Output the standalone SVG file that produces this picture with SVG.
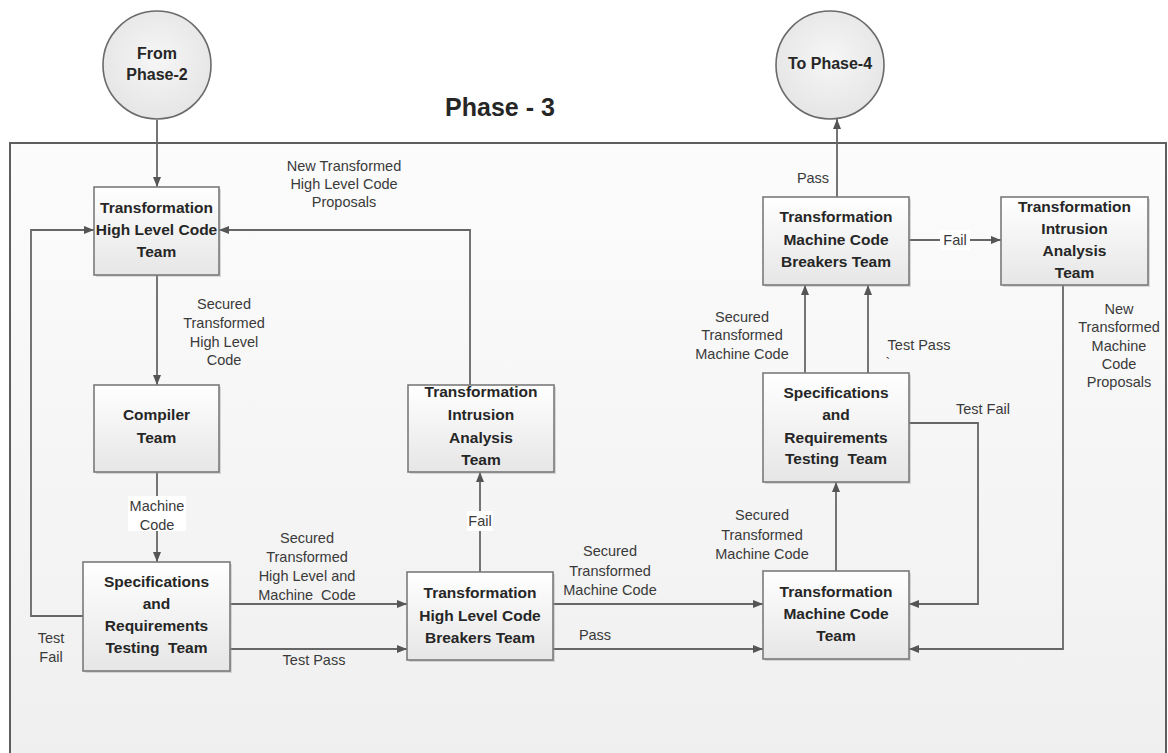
<svg xmlns="http://www.w3.org/2000/svg" width="1168" height="753" viewBox="0 0 1168 753">
<style>
.nt{font-family:"Liberation Sans",Arial,sans-serif;font-weight:bold;font-size:15.5px;fill:#262626;text-anchor:middle;white-space:pre}
.ct{font-family:"Liberation Sans",Arial,sans-serif;font-weight:bold;font-size:16px;fill:#262626;text-anchor:middle}
.el{font-family:"Liberation Sans",Arial,sans-serif;font-size:14.5px;fill:#3a3a3a;text-anchor:middle;white-space:pre}
.box{fill:url(#bg);stroke:#7a7a7a;stroke-width:1.6}
.sh{fill:#9a9a9a;opacity:0.35}
.cn{fill:none;stroke:#666;stroke-width:1.8}
.lb{fill:#fff}
</style>
<defs>
<linearGradient id="bg" x1="0" y1="0" x2="0" y2="1"><stop offset="0" stop-color="#ffffff"/><stop offset="1" stop-color="#e6e6e6"/></linearGradient>
<linearGradient id="fr" x1="0" y1="0" x2="0" y2="1"><stop offset="0" stop-color="#fcfcfc"/><stop offset="1" stop-color="#efefef"/></linearGradient>
<radialGradient id="cg" cx="0.5" cy="0.45" r="0.6"><stop offset="0" stop-color="#f6f6f6"/><stop offset="1" stop-color="#e4e4e4"/></radialGradient>
<marker id="ah" viewBox="0 0 10 8" refX="10" refY="4" markerWidth="10" markerHeight="8" markerUnits="userSpaceOnUse" orient="auto"><path d="M0,0 L10,4 L0,8 Z" fill="#555"/></marker>
</defs>

<g id="frame">
<rect x="10" y="143" width="1156" height="630" fill="url(#fr)" stroke="#5e5e5e" stroke-width="2"/>
<text x="500" y="116" font-family="'Liberation Sans',Arial,sans-serif" font-weight="bold" font-size="25" fill="#262626" text-anchor="middle">Phase - 3</text>
</g>

<g id="connectors">
<line class="cn" x1="157" y1="120" x2="157" y2="187" marker-end="url(#ah)"/>
<line class="cn" x1="157" y1="275" x2="157" y2="385" marker-end="url(#ah)"/>
<line class="cn" x1="157" y1="472" x2="157" y2="562" marker-end="url(#ah)"/>
<polyline class="cn" points="83,616 31,616 31,230 94,230" marker-end="url(#ah)"/>
<line class="cn" x1="230" y1="604" x2="407" y2="604" marker-end="url(#ah)"/>
<line class="cn" x1="230" y1="649" x2="407" y2="649" marker-end="url(#ah)"/>
<line class="cn" x1="480" y1="572" x2="480" y2="472" marker-end="url(#ah)"/>
<polyline class="cn" points="470,385 470,230 219,230" marker-end="url(#ah)"/>
<line class="cn" x1="553" y1="604" x2="763" y2="604" marker-end="url(#ah)"/>
<line class="cn" x1="553" y1="649" x2="763" y2="649" marker-end="url(#ah)"/>
<line class="cn" x1="836" y1="571" x2="836" y2="482" marker-end="url(#ah)"/>
<line class="cn" x1="805" y1="373" x2="805" y2="285" marker-end="url(#ah)"/>
<line class="cn" x1="868" y1="373" x2="868" y2="285" marker-end="url(#ah)"/>
<polyline class="cn" points="909,423 978,423 978,604 909,604" marker-end="url(#ah)"/>
<line class="cn" x1="909" y1="240" x2="1001" y2="240" marker-end="url(#ah)"/>
<polyline class="cn" points="1063,285 1063,649 909,649" marker-end="url(#ah)"/>
<line class="cn" x1="837" y1="197" x2="837" y2="119" marker-end="url(#ah)"/>

<text class="el" x="224" y="309">Secured</text>
<text class="el" x="224" y="328">Transformed</text>
<text class="el" x="224" y="347">High Level</text>
<text class="el" x="224" y="365">Code</text>
<rect class="lb" x="128" y="496" width="58" height="35"/>
<text class="el" x="157" y="511">Machine</text>
<text class="el" x="157" y="530">Code</text>
<text class="el" x="51" y="643">Test</text>
<text class="el" x="51" y="662">Fail</text>
<text class="el" x="307" y="543">Secured</text>
<text class="el" x="307" y="562">Transformed</text>
<text class="el" x="307" y="581">High Level and</text>
<text class="el" x="307" y="600">Machine  Code</text>
<text class="el" x="314" y="665">Test Pass</text>
<rect class="lb" x="467" y="511" width="26" height="20"/>
<text class="el" x="480" y="526">Fail</text>
<text class="el" x="344" y="171">New Transformed</text>
<text class="el" x="344" y="189">High Level Code</text>
<text class="el" x="344" y="207">Proposals</text>
<text class="el" x="610" y="556">Secured</text>
<text class="el" x="610" y="576">Transformed</text>
<text class="el" x="610" y="595">Machine Code</text>
<text class="el" x="595" y="640">Pass</text>
<text class="el" x="762" y="520">Secured</text>
<text class="el" x="762" y="540">Transformed</text>
<text class="el" x="762" y="559">Machine Code</text>
<text class="el" x="742" y="322">Secured</text>
<text class="el" x="742" y="340">Transformed</text>
<text class="el" x="742" y="359">Machine Code</text>
<text class="el" x="919" y="350">Test Pass</text>
<text class="el" x="888" y="368">`</text>
<text class="el" x="983" y="414">Test Fail</text>
<rect class="lb" x="940" y="230" width="30" height="20" fill="#f8f8f8"/>
<text class="el" x="955" y="245">Fail</text>
<text class="el" x="1119" y="314">New</text>
<text class="el" x="1119" y="332">Transformed</text>
<text class="el" x="1119" y="351">Machine</text>
<text class="el" x="1119" y="369">Code</text>
<text class="el" x="1119" y="387">Proposals</text>
<text class="el" x="813" y="183">Pass</text>
</g>

<g id="from-phase-2">
<circle cx="157" cy="65" r="54" fill="url(#cg)" stroke="#6a6a6a" stroke-width="1.6"/>
<text class="ct" x="157" y="59">From</text>
<text class="ct" x="157" y="80">Phase-2</text>
</g>
<g id="to-phase-4">
<circle cx="830" cy="65" r="54" fill="url(#cg)" stroke="#6a6a6a" stroke-width="1.6"/>
<text class="ct" x="830" y="69">To Phase-4</text>
</g>

<g id="t-hl-code-team">
<rect class="sh" x="96" y="189" width="125" height="88"/>
<rect class="box" x="94" y="187" width="125" height="88"/>
<text class="nt" x="156.5" y="213">Transformation</text>
<text class="nt" x="156.5" y="235">High Level Code</text>
<text class="nt" x="156.5" y="257">Team</text>
</g>
<g id="compiler-team">
<rect class="sh" x="96" y="387" width="125" height="87"/>
<rect class="box" x="94" y="385" width="125" height="87"/>
<text class="nt" x="156.5" y="420">Compiler</text>
<text class="nt" x="156.5" y="443">Team</text>
</g>
<g id="spec-left">
<rect class="sh" x="85" y="564" width="147" height="109"/>
<rect class="box" x="83" y="562" width="147" height="109"/>
<text class="nt" x="156.5" y="587">Specifications</text>
<text class="nt" x="156.5" y="609">and</text>
<text class="nt" x="156.5" y="631">Requirements</text>
<text class="nt" x="156.5" y="653">Testing  Team</text>
</g>
<g id="intrusion-mid">
<rect class="sh" x="410" y="387" width="146" height="87"/>
<rect class="box" x="408" y="385" width="146" height="87"/>
<text class="nt" x="481" y="397">Transformation</text>
<text class="nt" x="481" y="420">Intrusion</text>
<text class="nt" x="481" y="443">Analysis</text>
<text class="nt" x="481" y="465">Team</text>
</g>
<g id="hl-breakers">
<rect class="sh" x="409" y="574" width="146" height="88"/>
<rect class="box" x="407" y="572" width="146" height="88"/>
<text class="nt" x="480" y="598">Transformation</text>
<text class="nt" x="480" y="621">High Level Code</text>
<text class="nt" x="480" y="643">Breakers Team</text>
</g>
<g id="mc-team">
<rect class="sh" x="765" y="573" width="146" height="88"/>
<rect class="box" x="763" y="571" width="146" height="88"/>
<text class="nt" x="836" y="597">Transformation</text>
<text class="nt" x="836" y="619">Machine Code</text>
<text class="nt" x="836" y="641">Team</text>
</g>
<g id="spec-right">
<rect class="sh" x="765" y="375" width="146" height="109"/>
<rect class="box" x="763" y="373" width="146" height="109"/>
<text class="nt" x="836" y="398">Specifications</text>
<text class="nt" x="836" y="420">and</text>
<text class="nt" x="836" y="443">Requirements</text>
<text class="nt" x="836" y="464">Testing  Team</text>
</g>
<g id="mc-breakers">
<rect class="sh" x="765" y="199" width="146" height="88"/>
<rect class="box" x="763" y="197" width="146" height="88"/>
<text class="nt" x="836" y="222">Transformation</text>
<text class="nt" x="836" y="245">Machine Code</text>
<text class="nt" x="836" y="267">Breakers Team</text>
</g>
<g id="intrusion-right">
<rect class="sh" x="1003" y="199" width="147" height="88"/>
<rect class="box" x="1001" y="197" width="147" height="88"/>
<text class="nt" x="1074.5" y="212">Transformation</text>
<text class="nt" x="1074.5" y="234">Intrusion</text>
<text class="nt" x="1074.5" y="256">Analysis</text>
<text class="nt" x="1074.5" y="278">Team</text>
</g>
</svg>
